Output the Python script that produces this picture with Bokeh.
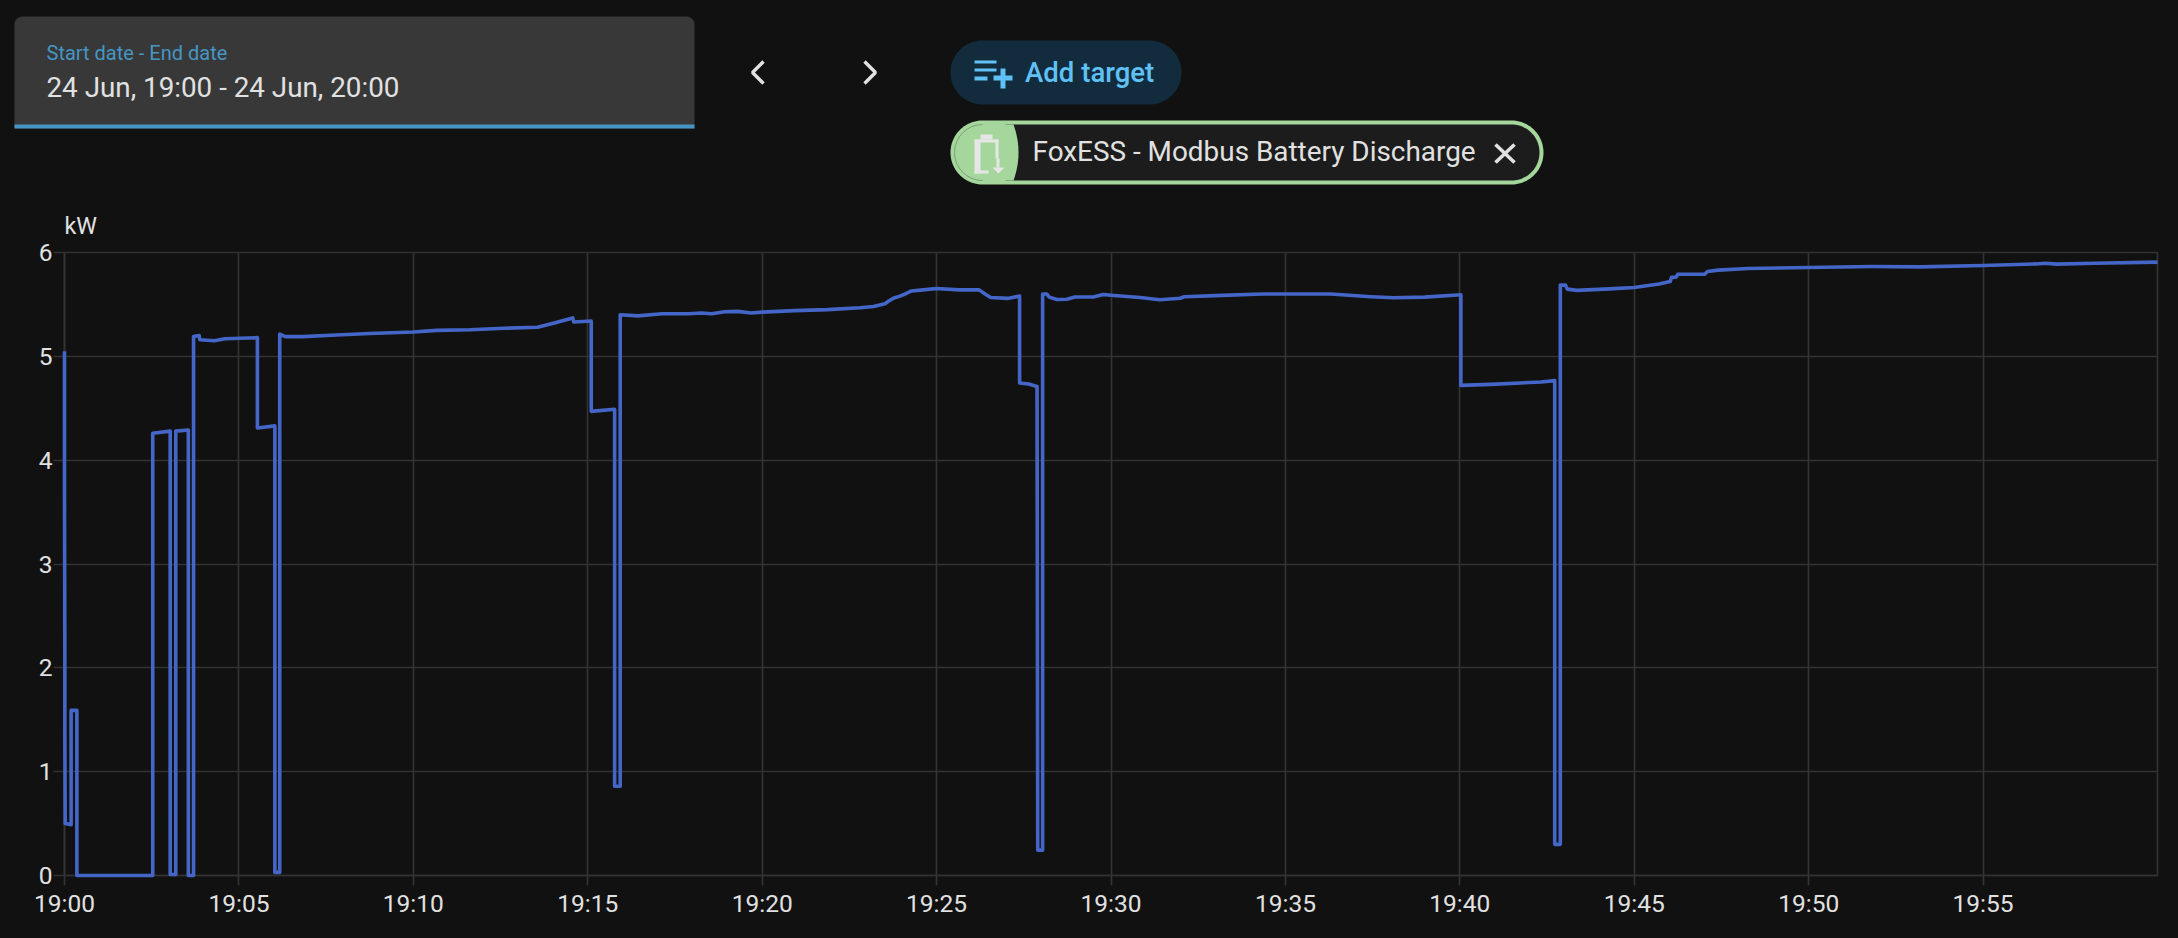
import numpy as np
import pandas as pd
from bokeh.core.properties import value
from bokeh.embed import file_html
from bokeh.models import ColumnDataSource, DatetimeTickFormatter, FixedTicker, Range1d
from bokeh.plotting import figure
from bokeh.resources import INLINE

# ---- data ----
minutes = [0.0, 0.0, 0.0, 0.01, 0.01, 0.02, 0.19, 0.19, 0.355, 0.355, 2.53, 2.53, 3.03, 3.03, 3.19, 3.19,
           3.55, 3.55, 3.70, 3.70, 3.86, 3.88, 4.3, 4.6, 5.53, 5.53, 6.03, 6.03, 6.17, 6.17, 6.33, 6.83,
           7.8, 8.75, 10.0, 10.67, 11.63, 12.6, 13.56, 14.04, 14.57, 14.6, 15.1, 15.1, 15.77, 15.77,
           15.93, 15.93, 16.44, 17.13, 17.89, 18.27, 18.55, 18.93, 19.3, 19.69, 20.0, 20.92, 21.87, 22.81,
           23.19, 23.52, 23.62, 23.76, 23.95, 24.09, 24.28, 24.61, 25.0, 25.65, 26.22, 26.39, 26.55, 27.03,
           27.38, 27.38, 27.64, 27.88, 27.9, 28.04, 28.04, 28.16, 28.23, 28.45, 28.73, 28.97, 29.49, 29.78,
           30.0, 30.83, 31.4, 31.98, 32.1, 33.2, 34.35, 35.0, 36.3, 37.45, 38.1, 38.99, 40.03, 40.03,
           40.89, 42.33, 42.72, 42.72, 42.88, 42.88, 43.03, 43.08, 43.36, 44.29, 45.0, 45.71, 46.03, 46.07,
           46.2, 46.25, 47.02, 47.1, 47.41, 48.26, 50.0, 51.8, 53.2, 55.0, 56.5, 56.8, 57.1, 58.2, 60.0]
discharge_kw = [5.05, 4.65, 3.8, 2.0, 1.35, 0.5, 0.49, 1.59, 1.59, 0.0, 0.0, 4.26, 4.28, 0.01, 0.01, 4.28,
                4.29, 0.0, 0.0, 5.19, 5.2, 5.16, 5.15, 5.17, 5.18, 4.31, 4.33, 0.03, 0.03, 5.215, 5.19, 5.19,
                5.205, 5.22, 5.234, 5.25, 5.256, 5.27, 5.28, 5.32, 5.37, 5.33, 5.34, 4.47, 4.49, 0.86,
                0.86, 5.40, 5.39, 5.41, 5.41, 5.417, 5.41, 5.43, 5.433, 5.417, 5.426, 5.44, 5.45, 5.468,
                5.48, 5.506, 5.53, 5.56, 5.58, 5.60, 5.63, 5.64, 5.654, 5.64, 5.64, 5.60, 5.567, 5.558,
                5.58, 4.744, 4.734, 4.71, 0.244, 0.244, 5.60, 5.60, 5.57, 5.547, 5.55, 5.572, 5.572, 5.595,
                5.588, 5.567, 5.545, 5.56, 5.574, 5.587, 5.60, 5.60, 5.60, 5.574, 5.564, 5.57, 5.593, 4.72,
                4.73, 4.753, 4.766, 0.30, 0.30, 5.686, 5.686, 5.647, 5.635, 5.65, 5.663, 5.696, 5.72, 5.76,
                5.763, 5.79, 5.79, 5.817, 5.83, 5.846, 5.856, 5.865, 5.862, 5.875, 5.89, 5.897, 5.888, 5.897, 5.907]
tick_minutes = [0, 5, 10, 15, 20, 25, 30, 35, 40, 45, 50, 55]
kw_ticks = [0, 1, 2, 3, 4, 5, 6]
range_label = "Start date - End date"
range_value = "24 Jun, 19:00 - 24 Jun, 20:00"
add_label = "Add target"
chip_label = "FoxESS - Modbus Battery Discharge"
unit_label = "kW"

BG, GRID, LINE, TEXT = "#111111", "#333333", "#4566c9", "#e1e1e1"
ACCENT, PILL, PILL_TEXT, CHIP, CHIP_BG = "#4596c4", "#122c3e", "#5fc1f5", "#a5d79c", "#1c1c1c"
FONT = "Roboto"

base = pd.Timestamp("2024-06-24 19:00")
times = [base + pd.Timedelta(minutes=m) for m in minutes]
source = ColumnDataSource(dict(t=times, kw=discharge_kw))
to_ms = lambda m: (base + pd.Timedelta(minutes=m)).value / 1e6

# frame edges, in page pixels
F_LEFT, F_RIGHT, F_TOP, F_BOTTOM = 64, 2157, 252, 875

p = figure(width=2178, height=938, x_axis_type="datetime",
           x_range=Range1d(to_ms(0), to_ms(60)), y_range=Range1d(0, 6),
           output_backend="svg", toolbar_location=None,
           min_border_left=F_LEFT, min_border_right=2178 - F_RIGHT,
           min_border_top=F_TOP, min_border_bottom=938 - F_BOTTOM)
p.background_fill_color = BG
p.border_fill_color = BG
p.outline_line_color = GRID
p.outline_line_width = 1.67

p.xaxis.ticker = FixedTicker(ticks=[to_ms(m) for m in tick_minutes])
p.yaxis.ticker = FixedTicker(ticks=kw_ticks)
p.xaxis.formatter = DatetimeTickFormatter(seconds="%H:%M", minsec="%H:%M", minutes="%H:%M", hourmin="%H:%M",
                                          hours="%H:%M", days="%H:%M", months="%H:%M", years="%H:%M")
for ax in (p.xaxis[0], p.yaxis[0]):
    ax.axis_line_color = GRID
    ax.axis_line_width = 1.67
    ax.major_tick_line_color = GRID
    ax.major_tick_line_width = 1.67
    ax.major_tick_in = 0
    ax.minor_tick_line_color = None
    ax.major_label_text_font = FONT
    ax.major_label_text_font_size = "24.5px"
    ax.major_label_text_color = TEXT
p.xaxis.major_tick_out = 10
p.yaxis.major_tick_out = 11
p.xaxis.major_label_standoff = 3
p.yaxis.major_label_standoff = 1
p.grid.grid_line_color = GRID
p.grid.grid_line_width = 1.67

# level "annotation" keeps the line from being cut in half along the frame's left edge
p.line("t", "kw", source=source, line_color=LINE, line_width=3.6, line_join="round", level="annotation")

# ---- header strip and unit, drawn in page pixels on ranges that map the frame to its own pixel position ----
p.extra_x_ranges["px"] = Range1d(F_LEFT, F_RIGHT)
p.extra_y_ranges["px"] = Range1d(F_BOTTOM, F_TOP)
PX = dict(x_range_name="px", y_range_name="px", level="overlay")


def box(left, right, top, bottom, color, radii=(0, 0, 0, 0)):
    """Rounded rectangle; radii are top-left, top-right, bottom-right, bottom-left."""
    corners = [(left + radii[0], top + radii[0], radii[0], np.pi, 1.5 * np.pi),
               (right - radii[1], top + radii[1], radii[1], 1.5 * np.pi, 2 * np.pi),
               (right - radii[2], bottom - radii[2], radii[2], 0, 0.5 * np.pi),
               (left + radii[3], bottom - radii[3], radii[3], 0.5 * np.pi, np.pi)]
    xs, ys = [], []
    for cx, cy, r, a0, a1 in corners:
        a = np.linspace(a0, a1, 24)
        xs.extend(cx + r * np.cos(a))
        ys.extend(cy + r * np.sin(a))
    p.patch(xs, ys, color=color, line_color=None, **PX)


def label(x, y, txt, size, color, font=FONT):
    p.text(x=[x], y=[y], text=[txt], text_font=value(font), text_font_size=size, text_color=color,
           text_baseline="middle", text_align="left", **PX)


box(14, 694, 16, 128, "#383838", (8, 8, 0, 0))
p.quad(left=[14], right=[694], top=[124], bottom=[128], color=ACCENT, line_color=None, **PX)
label(46, 52, range_label, "20px", ACCENT)
label(46, 87, range_value, "27.8px", TEXT)
p.line([763, 752, 763], [61, 72, 83], line_color=TEXT, line_width=3.4, **PX)
p.line([864, 875, 864], [61, 72, 83], line_color=TEXT, line_width=3.4, **PX)

box(950, 1181, 40, 104, PILL, (32, 32, 32, 32))
p.quad(left=[974, 974, 974, 1000, 993], right=[996, 996, 987, 1005, 1012], top=[60, 68, 76, 68, 75],
       bottom=[63, 71, 80, 88, 80], color=PILL_TEXT, line_color=None, **PX)
label(1024.5, 72, add_label, "27.5px", PILL_TEXT, "Roboto Medium")

box(950, 1543, 120, 184, CHIP, (32, 32, 32, 32))
box(1005, 1539, 124, 180, CHIP_BG, (0, 28, 28, 0))
ys = np.linspace(124, 180, 25)
p.patch(np.r_[990, 1018 - 5 * ((ys - 152) / 28) ** 2, 990], np.r_[124, ys, 180], color=CHIP, line_color=None, **PX)
p.arc(x=[982], y=[152], radius=[28], start_angle=np.pi / 2, end_angle=3 * np.pi / 2, line_color="#7f9f7a",
      line_width=1, **PX)
p.quad(left=[980, 974, 974, 995, 974, 996], right=[992, 998, 980, 998, 988, 999], top=[134, 139, 139, 139, 170, 158],
       bottom=[139, 142, 173, 158, 173, 167], color="#e6e6e6", line_color=None, **PX)
p.patch([992, 1004, 998], [167, 167, 173], color="#e6e6e6", line_color=None, **PX)
label(1032, 151, chip_label, "27.9px", TEXT)
p.line([1495, 1514], [144, 162], line_color=TEXT, line_width=3.6, **PX)
p.line([1495, 1514], [162, 144], line_color=TEXT, line_width=3.6, **PX)
label(64, 225, unit_label, "23.3px", TEXT)

html = file_html(p, INLINE)
html = html.replace("<head>", "<head><style>html,body{background:#111111;overflow:hidden}</style>", 1)
open("out.html", "w").write(html)
